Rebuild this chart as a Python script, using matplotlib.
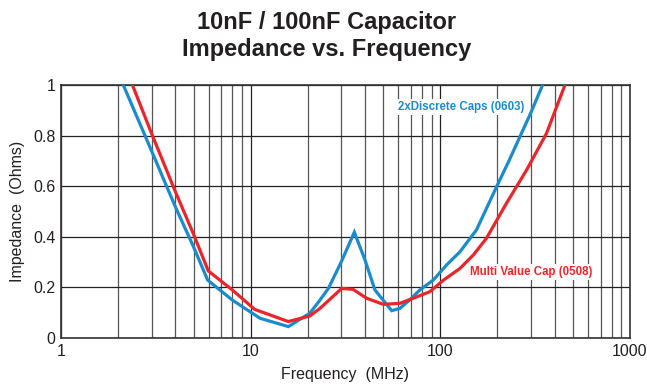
import numpy as np
import matplotlib.pyplot as plt
from matplotlib.ticker import FixedLocator, LogLocator, NullFormatter

plt.rcParams['font.family'] = ['Liberation Sans', 'DejaVu Sans']

# Frequency (MHz) / impedance (Ohms)
discrete_freq = [2.13, 3.0, 4.0, 5.0, 5.93, 8.0, 11.2, 15.8, 20.5, 23.2, 25.7, 30.0,
                 35.2, 40.0, 45.2, 55.4, 61.2, 70.0, 78.0, 91.8, 108, 127, 155,
                 198, 230, 263, 300, 346]
discrete_imp = [1.0, 0.74, 0.52, 0.36, 0.229, 0.15, 0.078, 0.045, 0.098, 0.15, 0.196, 0.30,
                0.418, 0.31, 0.19, 0.108, 0.117, 0.155, 0.19, 0.229, 0.289, 0.341, 0.427,
                0.598, 0.70, 0.796, 0.89, 1.0]

multi_freq = [2.38, 3.0, 4.0, 5.0, 5.98, 8.0, 10.5, 15.8, 20.5, 23.2, 30.2, 34.7,
              40.9, 50.0, 61.2, 72.0, 88.0, 104, 127, 150, 175, 223, 285, 363, 454]
multi_imp = [1.0, 0.809, 0.58, 0.41, 0.265, 0.19, 0.113, 0.065, 0.087, 0.117, 0.196, 0.192,
             0.157, 0.133, 0.137, 0.157, 0.183, 0.229, 0.275, 0.33, 0.394, 0.532, 0.664,
             0.809, 1.0]

blue = '#1b8bcb'
red = '#e8262b'
text_col = '#231f20'

fig = plt.figure(figsize=(6.47, 3.85), dpi=100)
ax = fig.add_axes([0.0943, 0.1221, 0.8794, 0.6571])

ax.plot(discrete_freq, discrete_imp, color=blue, lw=2.3, solid_joinstyle='miter', zorder=3)
ax.plot(multi_freq, multi_imp, color=red, lw=2.3, solid_joinstyle='miter', zorder=4)

ax.set_xscale('log')
ax.set_xlim(1, 1000)
ax.set_ylim(0, 1)

ax.xaxis.set_major_locator(FixedLocator([1, 10, 100, 1000]))
ax.xaxis.set_major_formatter(plt.FuncFormatter(lambda v, p: f'{int(v)}'))
ax.xaxis.set_minor_locator(LogLocator(base=10, subs=range(2, 10)))
ax.xaxis.set_minor_formatter(NullFormatter())
ax.set_yticks([0, 0.2, 0.4, 0.6, 0.8, 1.0])
ax.set_yticklabels(['0', '0.2', '0.4', '0.6', '0.8', '1'])

ax.grid(True, which='major', color='#222222', lw=0.9)
ax.grid(True, which='minor', axis='x', color='#555555', lw=0.9)
ax.tick_params(which='both', length=0, labelsize=11.5, colors=text_col, pad=4)
for s in ax.spines.values():
    s.set_color('#333333')
    s.set_linewidth(1.2)

ax.set_xlabel('Frequency  (MHz)', fontsize=11.5, color=text_col, labelpad=6)
ax.set_ylabel('Impedance  (Ohms)', fontsize=11.5, color=text_col, labelpad=6)

fig.text(0.505, 0.972, '10nF / 100nF Capacitor\nImpedance vs. Frequency',
         ha='center', va='top', fontsize=17, fontweight='bold', color=text_col,
         linespacing=1.25)

box = dict(facecolor='white', edgecolor='none', pad=1.5)
ax.text(276, 0.913, '2xDiscrete Caps (0603)', color=blue, fontsize=8.3, fontweight='bold',
        ha='right', va='center', bbox=box, zorder=5)
ax.text(637, 0.261, 'Multi Value Cap (0508)', color=red, fontsize=8.3, fontweight='bold',
        ha='right', va='center', bbox=box, zorder=5)

fig.savefig('out.png', dpi=100)
